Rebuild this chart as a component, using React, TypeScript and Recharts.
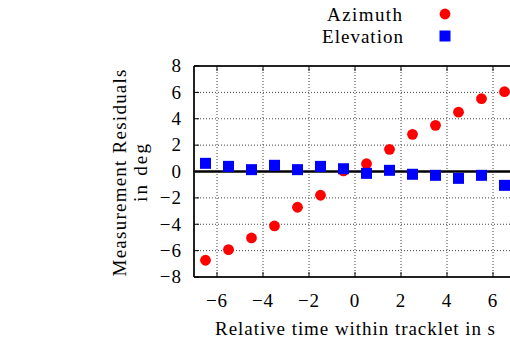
import React from "react";
import {
  ScatterChart,
  Scatter,
  XAxis,
  YAxis,
  CartesianGrid,
  ReferenceLine,
  Label,
} from "recharts";

// Sample times (s) and residuals (deg) for each measured angle
const times = [-6.5, -5.5, -4.5, -3.5, -2.5, -1.5, -0.5, 0.5, 1.5, 2.5, 3.5, 4.5, 5.5, 6.5];
const azimuth = [-6.73, -5.92, -5.04, -4.13, -2.71, -1.8, 0.04, 0.59, 1.68, 2.82, 3.5, 4.5, 5.52, 6.05];
const elevation = [0.62, 0.39, 0.14, 0.47, 0.14, 0.39, 0.21, -0.14, 0.09, -0.21, -0.29, -0.52, -0.29, -1.05];
const xTicks = [-6, -4, -2, 0, 2, 4, 6];
const yTicks = [-8, -6, -4, -2, 0, 2, 4, 6, 8];

const azData = times.map((t, i) => ({ x: t, y: azimuth[i] }));
const elData = times.map((t, i) => ({ x: t, y: elevation[i] }));

const FONT = "'Liberation Serif', 'DejaVu Serif', serif";
const FS = 19;
const PLOT_LEFT = 194;
const PLOT_TOP = 66;
const PLOT_BOTTOM = 277;
const TICK_LEN = 5;

const fmt = (v: number) => (v < 0 ? "\u2212" + Math.abs(v) : String(v));

const XTick = (props: any) => {
  const { x, payload } = props;
  return (
    <g>
      <line x1={x} x2={x} y1={PLOT_BOTTOM} y2={PLOT_BOTTOM - TICK_LEN} stroke="#000" strokeWidth={1} />
      <line x1={x} x2={x} y1={PLOT_TOP} y2={PLOT_TOP + TICK_LEN} stroke="#000" strokeWidth={1} />
      <text x={x} y={307} textAnchor="middle" fontFamily={FONT} fontSize={FS} letterSpacing={1} fill="#000">
        {fmt(payload.value)}
      </text>
    </g>
  );
};

const YTick = (props: any) => {
  const { y, payload } = props;
  return (
    <g>
      <line x1={PLOT_LEFT} x2={PLOT_LEFT + TICK_LEN} y1={y} y2={y} stroke="#000" strokeWidth={1} />
      <text x={182} y={y} dy="0.33em" textAnchor="end" fontFamily={FONT} fontSize={FS} letterSpacing={1} fill="#000">
        {fmt(payload.value)}
      </text>
    </g>
  );
};

const Dot = (props: any) => {
  const { cx, cy } = props;
  return <circle cx={cx} cy={cy} r={5.4} fill="#ff0000" />;
};

const Square = (props: any) => {
  const { cx, cy } = props;
  return <rect x={cx - 5.5} y={cy - 5.5} width={11} height={11} fill="#0000ff" />;
};

const XTitle = () => (
  <text
    x={355}
    y={335}
    textAnchor="middle"
    fontFamily={FONT}
    fontSize={FS}
    fill="#000"
    textLength={280}
    lengthAdjust="spacing"
  >
    Relative time within tracklet in s
  </text>
);

const YTitle = () => (
  <text transform="translate(126,173) rotate(-90)" textAnchor="middle" fontFamily={FONT} fontSize={FS} fill="#000">
    <tspan x={0} y={0} textLength={207} lengthAdjust="spacing">
      Measurement Residuals
    </tspan>
    <tspan x={0} y={21} textLength={58} lengthAdjust="spacing">
      in deg
    </tspan>
  </text>
);

export default function App() {
  return (
    <div
      style={{
        position: "absolute",
        left: 0,
        top: 0,
        width: 510,
        height: 344,
        overflow: "hidden",
        background: "#fff",
      }}
    >
      <ScatterChart width={530} height={344} margin={{ top: PLOT_TOP, right: 14, bottom: 0, left: 0 }}>
        <CartesianGrid stroke="#444" strokeDasharray="1 2" strokeWidth={1} />
        <XAxis
          type="number"
          dataKey="x"
          domain={[-7, 7]}
          ticks={xTicks}
          interval={0}
          height={67}
          axisLine={{ stroke: "#222", strokeWidth: 2 }}
          tickLine={false}
          tick={<XTick />}
          allowDataOverflow
        >
          <Label content={<XTitle />} />
        </XAxis>
        <YAxis
          type="number"
          dataKey="y"
          domain={[-8, 8]}
          ticks={yTicks}
          interval={0}
          width={194}
          axisLine={{ stroke: "#222", strokeWidth: 2 }}
          tickLine={false}
          tick={<YTick />}
          allowDataOverflow
        >
          <Label content={<YTitle />} />
        </YAxis>
        <ReferenceLine y={8} stroke="#222" strokeWidth={2} />
        <ReferenceLine y={0} stroke="#000" strokeWidth={2.5} />
        <Scatter name="Azimuth" data={azData} shape={<Dot />} isAnimationActive={false} />
        <Scatter name="Elevation" data={elData} shape={<Square />} isAnimationActive={false} />
      </ScatterChart>
      <svg width={510} height={50} style={{ position: "absolute", left: 0, top: 0 }}>
        <text x={402} y={20.5} textAnchor="end" fontFamily={FONT} fontSize={FS} fill="#000" textLength={75} lengthAdjust="spacing">
          Azimuth
        </text>
        <circle cx={445} cy={14} r={5.4} fill="#ff0000" />
        <text x={403} y={42.5} textAnchor="end" fontFamily={FONT} fontSize={FS} fill="#000" textLength={81} lengthAdjust="spacing">
          Elevation
        </text>
        <rect x={439.5} y={30.5} width={11} height={11} fill="#0000ff" />
      </svg>
    </div>
  );
}
